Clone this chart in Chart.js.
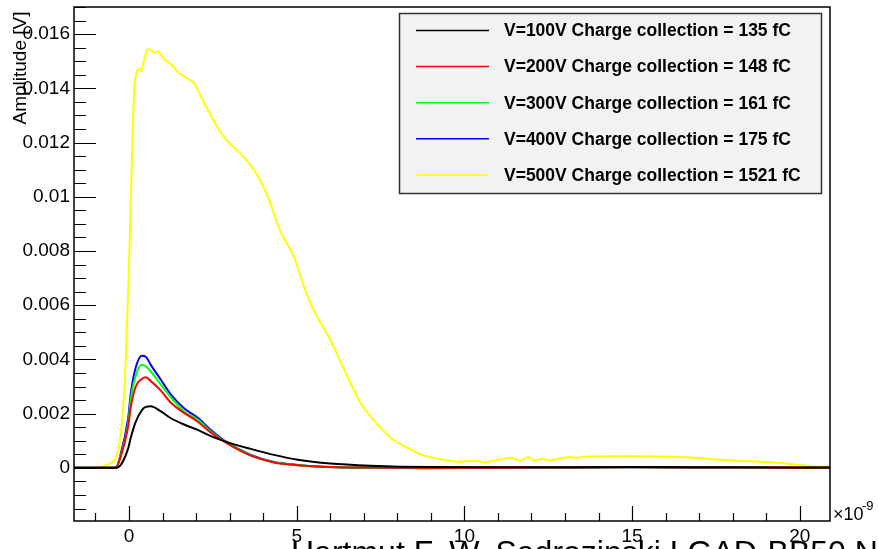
<!DOCTYPE html>
<html lang="en">
<head>
<meta charset="UTF-8">
<title>LGAD pulse amplitude</title>
<script src="https://cdn.jsdelivr.net/npm/chart.js"></script>
<style>
    body { margin: 0; background: #fff; }
    #pulse { display: block; }
</style>
</head>
<body>
<canvas id="pulse" width="878" height="549"></canvas>
<script>
// time axis in ns (the axis carries the x10^-9 factor)
const timeNs = [-1.64, -0.4, -0.25, -0.03, 0.06, 0.2, 0.38, 0.5, 0.65, 0.95, 1.25, 1.64, 2.05, 2.44,
    2.95, 3.63, 4.32, 5.03, 6.0, 7.2, 9, 12, 15, 18, 20.9];
const amp100 = [0, 0, 0.0001, 0.0007, 0.00115, 0.0017, 0.00212, 0.00225, 0.00227, 0.00208, 0.00183, 0.0016, 0.0014, 0.00117,
    0.00094, 0.0007, 0.00048, 0.0003, 0.00016, 0.00008, 0.00003, 0.00002, 0.00003, 0.00002, 0.00001];
const amp200 = [0, 0, 0.0004, 0.0015, 0.0023, 0.003, 0.00328, 0.00334, 0.0032, 0.00285, 0.0024, 0.00203, 0.0017, 0.0013,
    0.00088, 0.00045, 0.0002, 0.0001, 0.00003, 0.00001, 0, 0.00001, 0.00002, 0.00001, 0];
const amp300 = [0, 0, 0.00045, 0.0016, 0.0026, 0.0034, 0.0038, 0.00375, 0.00355, 0.00307, 0.0026, 0.00208, 0.00178, 0.00134,
    0.0009, 0.00046, 0.00021, 0.0001, 0.00003, 0.00001, 0, 0.00001, 0.00002, 0.00001, 0];
const amp400 = [0, 0, 0.0005, 0.0018, 0.0028, 0.0037, 0.00414, 0.0041, 0.0038, 0.00325, 0.0027, 0.0022, 0.00185, 0.0014,
    0.00092, 0.00048, 0.00022, 0.00011, 0.00003, 0, -0.00001, 0.00001, 0.00002, 0.00001, 0];

// 500 V pulse sampled separately (much larger signal)
const timeNs500 = [-1.64, -0.98, -0.75, -0.55, -0.42, -0.3, -0.18, -0.09, 0.0, 0.06, 0.15, 0.23, 0.3, 0.36, 0.42, 0.5,
    0.57, 0.65, 0.74, 0.86, 0.95, 1.04, 1.25, 1.46, 1.73, 1.93, 2.14, 2.53, 2.83, 3.33, 3.72, 4.14, 4.52, 4.91,
    5.21, 5.51, 6.01, 6.46, 6.9, 7.29, 7.8, 8.3, 8.78, 9.38, 9.8, 10.4, 10.57, 11.0, 11.37, 11.67, 11.9, 12.1,
    12.3, 12.5, 12.95, 13.15, 13.4, 13.6, 14.64, 16.43, 17.62, 19.4, 20.3, 20.9];
const amp500 = [0, 0, 0.00006, 0.00018, 0.0003, 0.0008, 0.0021, 0.0042, 0.0075, 0.0102, 0.0138, 0.0146, 0.01472, 0.01463, 0.0149, 0.0153,
    0.01545, 0.0154, 0.01532, 0.01537, 0.01525, 0.01508, 0.0149, 0.0146, 0.01437, 0.0142, 0.0137, 0.0128, 0.0122, 0.01158, 0.011, 0.01, 0.0087, 0.0078,
    0.0067, 0.0058, 0.0047, 0.0035, 0.0024, 0.00177, 0.00111, 0.00074, 0.00046, 0.0003, 0.00023, 0.00026, 0.0002, 0.0003, 0.00037, 0.00027, 0.0004, 0.00027,
    0.00034, 0.00028, 0.00037, 0.0004, 0.00037, 0.00042, 0.00043, 0.0004, 0.0003, 0.00018, 0.00007, 0.00004];

const seriesLabels = [
    'V=100V Charge collection = 135 fC',
    'V=200V Charge collection = 148 fC',
    'V=300V Charge collection = 161 fC',
    'V=400V Charge collection = 175 fC',
    'V=500V Charge collection = 1521 fC'
];
const seriesColors = ['#000000', '#ff0000', '#00ff00', '#0000ff', '#ffff00'];

const xMin = -1.64, xMax = 20.9;
const yMin = -0.00196, yMax = 0.0170;

function toPoints(ts, vs) {
    return ts.map((t, i) => ({ x: t, y: vs[i] }));
}

const series = [
    toPoints(timeNs, amp100),
    toPoints(timeNs, amp200),
    toPoints(timeNs, amp300),
    toPoints(timeNs, amp400),
    toPoints(timeNs500, amp500)
];

const FONT = "'Liberation Sans', Arial, sans-serif";

// ROOT-like frame: box, inward ticks, axis titles, legend box
const rootFrame = {
    id: 'rootFrame',
    afterDatasetsDraw(chart) {
        const ctx = chart.ctx;
        const a = chart.chartArea;
        const xs = chart.scales.x, ys = chart.scales.y;
        ctx.save();

        // frame
        ctx.strokeStyle = '#000';
        ctx.lineWidth = 1.5;
        ctx.strokeRect(a.left, a.top, a.right - a.left, a.bottom - a.top);

        // y ticks (major 0.002, minor 0.0005)
        ctx.lineWidth = 1.2;
        ctx.beginPath();
        for (let k = Math.ceil(ys.min / 0.0005); k * 0.0005 <= ys.max; k++) {
            const py = Math.round(ys.getPixelForValue(k * 0.0005)) + 0.5;
            const len = (k % 4 === 0) ? 22 : 12;
            ctx.moveTo(a.left, py);
            ctx.lineTo(a.left + len, py);
        }
        // x ticks (major 5, minor 1)
        for (let k = Math.ceil(xs.min); k <= xs.max; k++) {
            const px = Math.round(xs.getPixelForValue(k)) + 0.5;
            const len = (k % 5 === 0) ? 15 : 8;
            ctx.moveTo(px, a.bottom);
            ctx.lineTo(px, a.bottom - len);
        }
        ctx.stroke();

        // exponent on x axis
        ctx.fillStyle = '#000';
        ctx.textBaseline = 'alphabetic';
        ctx.textAlign = 'left';
        ctx.font = '18px ' + FONT;
        ctx.fillText('\u00d710', a.right + 3, 520);
        ctx.font = '13px ' + FONT;
        ctx.fillText('-9', a.right + 32, 510);

        // y title
        ctx.save();
        ctx.translate(21, 68);
        ctx.rotate(-Math.PI / 2);
        ctx.textAlign = 'center';
        ctx.textBaseline = 'middle';
        ctx.font = '19px ' + FONT;
        ctx.fillText('Amplitude [V]', 0, 0);
        ctx.restore();

        // legend box
        const lx = 399, ly = 13, lw = 422, lh = 180;
        ctx.fillStyle = '#f2f2f2';
        ctx.fillRect(lx, ly, lw, lh);
        ctx.strokeStyle = '#333';
        ctx.lineWidth = 1.5;
        ctx.strokeRect(lx + 0.5, ly + 0.5, lw, lh);
        ctx.font = 'bold 17.5px ' + FONT;
        ctx.textBaseline = 'middle';
        chart.data.datasets.forEach((ds, i) => {
            const cy = 30.5 + i * 36.1;
            ctx.strokeStyle = ds.borderColor;
            ctx.lineWidth = 1.5;
            ctx.beginPath();
            ctx.moveTo(416, cy);
            ctx.lineTo(489, cy);
            ctx.stroke();
            ctx.fillStyle = '#000';
            ctx.fillText(ds.label, 504, cy + 1);
        });

        // author line along the bottom edge
        ctx.font = '32px ' + FONT;
        ctx.textBaseline = 'alphabetic';
        ctx.fillStyle = '#000';
        ctx.fillText('Hartmut F.-W. Sadrozinski LGAD-BB50 N', 291, 563);

        ctx.restore();
    }
};

new Chart(document.getElementById('pulse'), {
    type: 'line',
    data: {
        datasets: series.map((pts, i) => ({
            label: seriesLabels[i],
            data: pts,
            borderColor: seriesColors[i],
            borderWidth: 2,
            pointRadius: 0,
            fill: false,
            cubicInterpolationMode: 'monotone'
        }))
    },
    options: {
        responsive: false,
        animation: false,
        devicePixelRatio: 1,
        layout: { padding: { left: 0, right: 48, top: 7, bottom: 0 } },
        plugins: {
            legend: { display: false },
            tooltip: { enabled: false }
        },
        scales: {
            x: {
                type: 'linear',
                min: xMin,
                max: xMax,
                grid: { display: false, drawTicks: false },
                border: { display: false },
                ticks: {
                    stepSize: 5,
                    includeBounds: false,
                    maxRotation: 0,
                    padding: 4,
                    color: '#000',
                    font: { family: FONT, size: 19 },
                    callback: v => String(Math.round(v))
                },
                afterFit: s => { s.height = 28; s.paddingLeft = 0; s.paddingRight = 0; }
            },
            y: {
                type: 'linear',
                min: yMin,
                max: yMax,
                grid: { display: false, drawTicks: false },
                border: { display: false },
                ticks: {
                    stepSize: 0.002,
                    includeBounds: false,
                    padding: 4,
                    color: '#000',
                    font: { family: FONT, size: 19 },
                    callback: v => String(parseFloat(v.toFixed(4)))
                },
                afterFit: s => { s.width = 74; s.paddingTop = 0; s.paddingBottom = 0; }
            }
        }
    },
    plugins: [rootFrame]
});
</script>
</body>
</html>
